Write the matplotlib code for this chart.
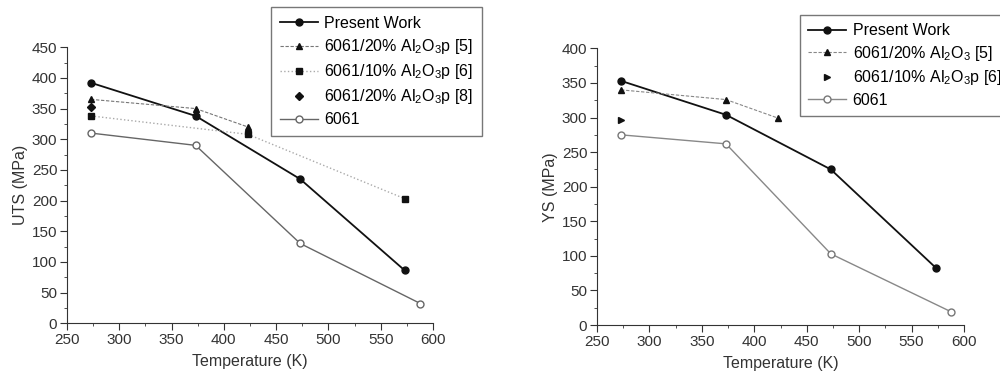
import numpy as np
import matplotlib
matplotlib.use("Agg")
import matplotlib.pyplot as plt
from matplotlib.ticker import MultipleLocator

plt.rcParams['font.family'] = ['Liberation Sans', 'DejaVu Sans']
plt.rcParams['mathtext.fontset'] = 'custom'
plt.rcParams['mathtext.rm'] = 'Liberation Sans'
plt.rcParams['mathtext.it'] = 'Liberation Sans:italic'
plt.rcParams['mathtext.bf'] = 'Liberation Sans:bold'

# UTS data (left panel)
uts_present_T = [273, 373, 473, 573]
uts_present = [392, 338, 235, 86]
uts_ref5_T = [273, 373, 423]
uts_ref5 = [365, 350, 320]
uts_ref6_T = [273, 423, 573]
uts_ref6 = [338, 308, 203]
uts_ref8_T = [273]
uts_ref8 = [352]
uts_6061_T = [273, 373, 473, 588]
uts_6061 = [310, 290, 130, 32]

# YS data (right panel)
ys_present_T = [273, 373, 473, 573]
ys_present = [353, 304, 225, 83]
ys_ref5_T = [273, 373, 423]
ys_ref5 = [340, 326, 299]
ys_ref6_T = [273]
ys_ref6 = [296]
ys_6061_T = [273, 373, 473, 588]
ys_6061 = [275, 262, 103, 19]

fig = plt.figure(figsize=(10, 3.78), dpi=100)
ax1 = fig.add_axes([0.067, 0.145, 0.366, 0.73])
ax2 = fig.add_axes([0.597, 0.140, 0.367, 0.732])


def style_axes(ax, ymax, ylabel):
    ax.set_xlim(250, 600)
    ax.set_ylim(0, ymax)
    ax.xaxis.set_major_locator(MultipleLocator(50))
    ax.xaxis.set_minor_locator(MultipleLocator(25))
    ax.yaxis.set_major_locator(MultipleLocator(50))
    ax.yaxis.set_minor_locator(MultipleLocator(25))
    for s in ['top', 'right']:
        ax.spines[s].set_visible(False)
    for s in ['left', 'bottom']:
        ax.spines[s].set_color('#333333')
    ax.tick_params(which='major', direction='out', length=5, labelsize=11, colors='#333333', pad=2)
    ax.tick_params(which='minor', direction='out', length=2.5, colors='#333333')
    ax.set_xlabel('Temperature (K)', fontsize=11.5, color='#333333', labelpad=5)
    ax.set_ylabel(ylabel, fontsize=11.5, color='#333333', labelpad=3)


leg_kw = dict(loc='upper left', fontsize=11.5, frameon=True, fancybox=False,
              edgecolor='#555555', handlelength=2.4, handletextpad=0.4, borderaxespad=0)

# left: UTS
ax1.plot(uts_present_T, uts_present, '-o', color='#111111', lw=1.3, ms=5, label='Present Work')
ax1.plot(uts_ref5_T, uts_ref5, '--^', color='#777777', mfc='#111111', mec='#111111', lw=0.8, ms=5,
         dashes=(3, 1.5), label='6061/20% Al$_2$O$_3$p [5]')
ax1.plot(uts_ref6_T, uts_ref6, ':s', color='#aaaaaa', mfc='#111111', mec='#111111', lw=1.0, ms=4.5,
         label='6061/10% Al$_2$O$_3$p [6]')
ax1.plot(uts_ref8_T, uts_ref8, 'D', color='#111111', ms=4.5, ls='none', label='6061/20% Al$_2$O$_3$p [8]')
ax1.plot(uts_6061_T, uts_6061, '-o', color='#666666', mfc='white', mec='#666666', lw=1.0, ms=5,
         label='6061')
style_axes(ax1, 450, 'UTS (MPa)')
leg1 = ax1.legend(bbox_to_anchor=(0.557, 1.145), borderpad=0.55, labelspacing=0.38, **leg_kw)
leg1.get_frame().set_linewidth(1.0)

# right: YS
ax2.plot(ys_present_T, ys_present, '-o', color='#111111', lw=1.3, ms=5, label='Present Work')
ax2.plot(ys_ref5_T, ys_ref5, '--^', color='#888888', mfc='#111111', mec='#111111', lw=0.8, ms=5,
         dashes=(3, 1.5), label='6061/20% Al$_2$O$_3$ [5]')
ax2.plot(ys_ref6_T, ys_ref6, '>', color='#111111', ms=5, ls='none', label='6061/10% Al$_2$O$_3$p [6]')
ax2.plot(ys_6061_T, ys_6061, '-o', color='#888888', mfc='white', mec='#777777', lw=1.0, ms=5,
         label='6061')
style_axes(ax2, 400, 'YS (MPa)')
leg2 = ax2.legend(bbox_to_anchor=(0.553, 1.12), borderpad=0.5, labelspacing=0.35, **leg_kw)
leg2.get_frame().set_linewidth(1.0)

fig.savefig('out.png', dpi=100)
